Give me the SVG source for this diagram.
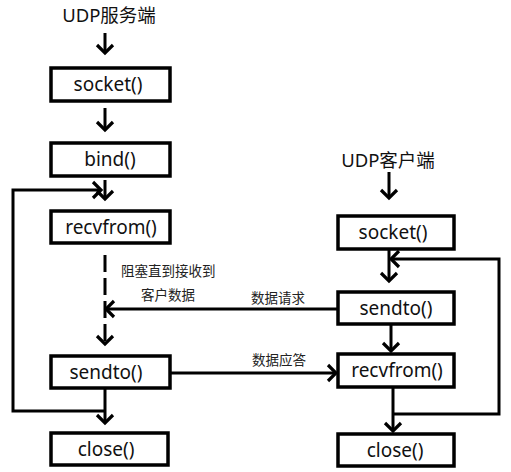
<svg xmlns="http://www.w3.org/2000/svg" width="511" height="472" viewBox="0 0 511 472">
<defs>
<marker id="ah" markerUnits="userSpaceOnUse" markerWidth="22" markerHeight="22" refX="11" refY="11" orient="auto" viewBox="0 0 22 22">
<polyline points="3,3 11,11 3,19" fill="none" stroke="#000" stroke-width="3.2"/>
</marker>
</defs>
<style>
.box{fill:#fff;stroke:#000;stroke-width:3.5}
.lbl{font-family:"Noto Sans","Noto Sans CJK SC",sans-serif;font-size:19px;fill:#111;text-anchor:middle}
.ttl{font-family:"Noto Sans","Noto Sans CJK SC",sans-serif;font-size:18.5px;fill:#111;text-anchor:middle}
.sm{font-family:"Noto Sans CJK SC","Noto Sans",sans-serif;font-size:13.5px;fill:#222}
.ln{fill:none;stroke:#000;stroke-width:3}
</style>
<rect width="511" height="472" fill="#fff"/>
<g id="connectors">
<line class="ln" x1="105" y1="33" x2="105" y2="53" marker-end="url(#ah)"/>
<line class="ln" x1="105" y1="108" x2="105" y2="130" marker-end="url(#ah)"/>
<line class="ln" x1="105" y1="180" x2="105" y2="199" marker-end="url(#ah)"/>
<polyline class="ln" points="105,411 13,411 13,190 101,190" marker-end="url(#ah)"/>
<line class="ln" x1="105" y1="255" x2="105" y2="344" stroke-dasharray="17,6" marker-end="url(#ah)"/>
<line class="ln" x1="105" y1="388" x2="105" y2="423" marker-end="url(#ah)"/>
<line class="ln" x1="337" y1="309" x2="106" y2="309" marker-end="url(#ah)"/>
<line class="ln" x1="170" y1="373" x2="336" y2="373" marker-end="url(#ah)"/>
<line class="ln" x1="389" y1="172" x2="389" y2="198" marker-end="url(#ah)"/>
<line class="ln" x1="389" y1="250" x2="389" y2="281" marker-end="url(#ah)"/>
<polyline class="ln" points="393,414 499,414 499,259 391,259" marker-end="url(#ah)"/>
<line class="ln" x1="391" y1="324" x2="391" y2="351" marker-end="url(#ah)"/>
<line class="ln" x1="393" y1="387" x2="393" y2="431" marker-end="url(#ah)"/>
</g>
<text class="ttl" x="109" y="22">UDP服务端</text>
<text class="ttl" x="388" y="167">UDP客户端</text>
<text class="sm" x="121" y="276">阻塞直到接收到</text>
<text class="sm" x="141" y="300">客户数据</text>
<text class="sm" x="251" y="303">数据请求</text>
<text class="sm" x="252" y="365">数据应答</text>
<g id="s_socket"><rect class="box" x="51" y="68" width="119" height="33"/><text class="lbl" x="108" y="91">socket()</text></g>
<g id="s_bind"><rect class="box" x="51" y="143" width="119" height="33"/><text class="lbl" x="110" y="166">bind()</text></g>
<g id="s_recvfrom"><rect class="box" x="51" y="211" width="119" height="32"/><text class="lbl" x="111" y="234">recvfrom()</text></g>
<g id="s_sendto"><rect class="box" x="51" y="356" width="119" height="32"/><text class="lbl" x="106" y="379">sendto()</text></g>
<g id="s_close"><rect class="box" x="51" y="433" width="117" height="32"/><text class="lbl" x="106" y="456">close()</text></g>
<g id="c_socket"><rect class="box" x="338" y="216" width="116" height="33"/><text class="lbl" x="393" y="239">socket()</text></g>
<g id="c_sendto"><rect class="box" x="338" y="292" width="116" height="32"/><text class="lbl" x="396" y="315">sendto()</text></g>
<g id="c_recvfrom"><rect class="box" x="338" y="354" width="116" height="33"/><text class="lbl" x="397" y="377">recvfrom()</text></g>
<g id="c_close"><rect class="box" x="338" y="434" width="116" height="32"/><text class="lbl" x="395" y="457">close()</text></g>
</svg>
